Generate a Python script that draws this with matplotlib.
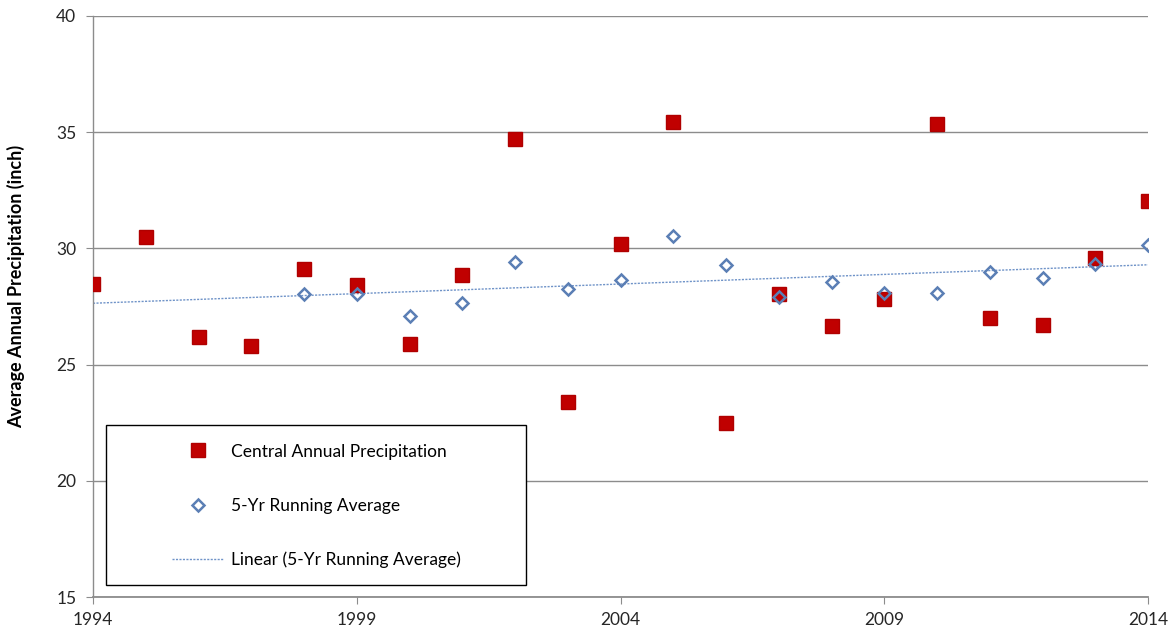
import numpy as np
import matplotlib
matplotlib.use('Agg')
import matplotlib.pyplot as plt
from matplotlib.patches import Rectangle

# values
years = list(range(1994, 2015))
central_precip = [28.47, 30.49, 26.19, 25.80, 29.11, 28.43, 25.89, 28.86, 34.71, 23.39,
                  30.19, 35.44, 22.49, 28.04, 26.66, 27.82, 35.35, 27.00, 26.70, 29.59, 32.04]
avg_years = list(range(1998, 2015))
running_avg = [28.04, 28.04, 27.09, 27.65, 29.41, 28.26, 28.64, 30.53, 29.28, 27.91,
               28.56, 28.08, 28.08, 28.98, 28.73, 29.33, 30.15]
xticks = [1994, 1999, 2004, 2009, 2014]
yticks = [15, 20, 25, 30, 35, 40]

grid_col = '#8c8c8c'
red = '#c00000'
blue = '#5b7fb5'
fonts = ['Lato', 'DejaVu Sans']

fig = plt.figure(figsize=(11.75, 6.35), dpi=100)
ax = fig.add_axes([93/1175, 1-597/635, (1148-93)/1175, (597-16)/635])

# linear trend of the running average (Excel-style, extended back to 1994)
slope, icept = np.polyfit(avg_years, running_avg, 1)
trend_x = np.array([years[0], years[-1]])
ax.plot(trend_x, slope*trend_x + icept, color='#6f93c8', lw=1.0, ls=(0, (1.5, 1)),
        label='Linear (5-Yr Running Average)', zorder=2)

ax.plot(years, central_precip, ls='none', marker='s', ms=9.6, color=red, mec='#b00000',
        label='Central Annual Precipitation', zorder=3)
ax.plot(avg_years, running_avg, ls='none', marker='D', ms=6.2, mfc='none', mec=blue,
        mew=1.8, label='5-Yr Running Average', zorder=4)

ax.set_xlim(1994, 2014)
ax.set_ylim(15, 40)
ax.set_xticks(xticks)
ax.set_yticks(yticks)
ax.yaxis.grid(True, color=grid_col, lw=1.0)
ax.set_axisbelow(True)
for s in ['top', 'right']:
    ax.spines[s].set_visible(False)
for s in ['left', 'bottom']:
    ax.spines[s].set_color(grid_col)
    ax.spines[s].set_linewidth(1.0)
ax.spines['bottom'].set_linewidth(1.3)
ax.tick_params(axis='y', length=5, color=grid_col, pad=7, labelsize=12.5, labelcolor='#262626')
ax.tick_params(axis='x', length=5, color=grid_col, pad=6, labelsize=12.5, labelcolor='#262626')
for lab in ax.get_xticklabels() + ax.get_yticklabels():
    lab.set_family(fonts)

ax.set_ylabel('Average Annual Precipitation (inch)', fontsize=13, fontweight='bold',
              family=fonts)
ax.yaxis.set_label_coords(-68/1055, 0.535)

# legend frame + legend
ax.add_patch(Rectangle(((106-93)/1055, (597-585)/581), 420/1055, 160/581,
                       transform=ax.transAxes, fill=True, fc='white', ec='black', lw=1.0, zorder=5))
handles, labels = ax.get_legend_handles_labels()
order = [1, 2, 0]
leg = ax.legend([handles[i] for i in order], [labels[i] for i in order],
                loc='center', bbox_to_anchor=((316-93)/1055, (597-506)/581),
                frameon=False, prop={'family': fonts, 'size': 12.5},
                labelspacing=2.2, handlelength=3.0, handletextpad=0.4)
leg.set_zorder(6)

fig.savefig('out.png', dpi=100)
